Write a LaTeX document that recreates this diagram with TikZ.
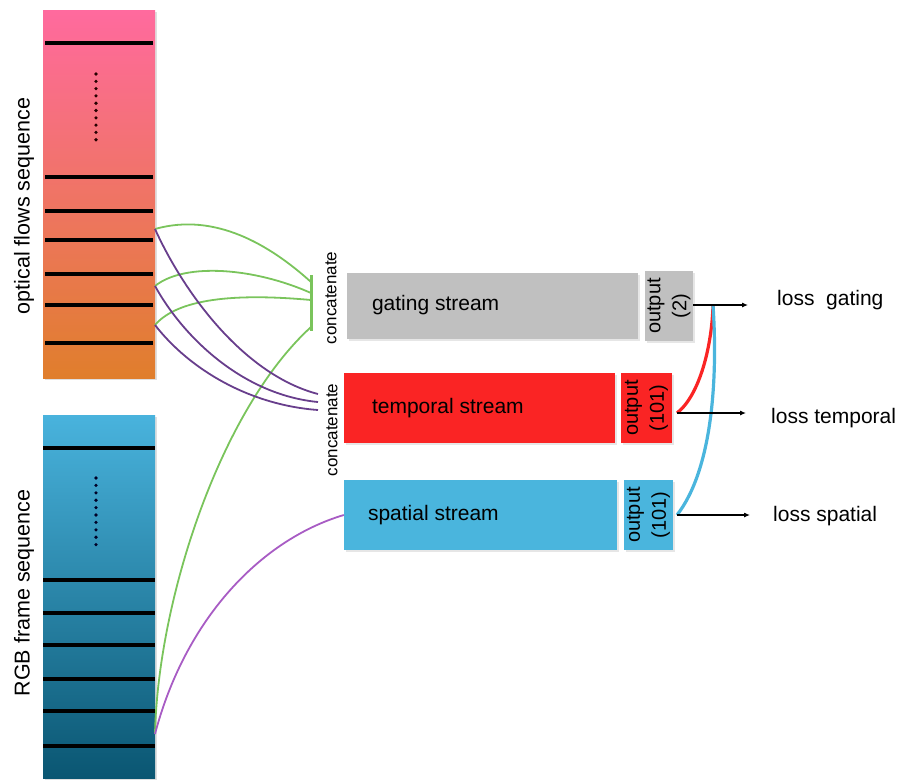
\documentclass[tikz,border=0pt]{standalone}
\usepackage{fontspec}
\setmainfont{Liberation Sans}
\usetikzlibrary{arrows.meta,shadows}
\definecolor{gategray}{RGB}{192,192,192}
\definecolor{tempred}{RGB}{250,36,36}
\definecolor{spblue}{RGB}{74,181,221}
\definecolor{cgreen}{RGB}{122,196,92}
\definecolor{cpurple}{RGB}{104,62,140}
\definecolor{lpurple}{RGB}{168,92,196}
\definecolor{ofTop}{RGB}{255,106,158}
\definecolor{ofBot}{RGB}{224,126,44}
\definecolor{rgbTop}{RGB}{73,179,221}
\definecolor{rgbBot}{RGB}{10,86,114}
\tikzset{
  seqbar/.style={rectangle, draw=none, inner sep=0pt, minimum width=112pt,
    drop shadow={opacity=0.25, shadow xshift=1.5pt, shadow yshift=-2pt}},
  stripe/.style={line width=3.3pt, black},
  streambox/.style={rectangle, draw=none, inner sep=0pt,
    drop shadow={opacity=0.2, shadow xshift=1.5pt, shadow yshift=-2pt}},
  lbl/.style={font=\fontsize{21}{25}\selectfont, inner sep=0pt},
  sidelbl/.style={font=\fontsize{21.5}{25}\selectfont, inner sep=0pt, rotate=90},
  catlbl/.style={font=\fontsize{17}{20}\selectfont, inner sep=0pt, rotate=90},
  outlbl/.style={font=\fontsize{20}{26}\selectfont, inner sep=0pt, rotate=90, align=center},
  gline/.style={cgreen, line width=1.8pt},
  pline/.style={cpurple, line width=1.8pt},
  lossarrow/.style={black, line width=1.1pt, -{Latex[length=6pt,width=5pt]}},
}
\begin{document}
\begin{tikzpicture}[x=1pt,y=-1pt]
\useasboundingbox (0,0) rectangle (902,782);

% sequence bars
\node[seqbar, minimum height=368pt, top color=ofTop, bottom color=ofBot] (of) at (99,194) {};
\node[seqbar, minimum height=363pt, top color=rgbTop, bottom color=rgbBot] (rgb) at (99,596.5) {};

\foreach \yy in {43,177,211,240,274,305,343}
  \draw[stripe] (45,\yy) -- (153,\yy);
\foreach \yy in {448,580,613,645,679,711,746}
  \draw[stripe] (43,\yy) -- (155,\yy);
\foreach \yy in {0,...,9}
  \fill[black!85!red] (96,74+7.3*\yy) circle (1.8pt);
\foreach \yy in {0,...,9}
  \fill[black!85!blue] (96,478+7.4*\yy) circle (1.8pt);

\node[sidelbl] (oflbl) at (24,206) {optical flows sequence};
\node[sidelbl] (rgblbl) at (24,593) {RGB frame sequence};

% concatenate
\coordinate (catT) at (311,275);
\coordinate (catB) at (311,331);
\draw[cgreen, line width=3pt] (catT) -- (catB);
\node[catlbl] (cat1) at (331,298) {concatenate};
\node[catlbl] (cat2) at (332,430) {concatenate};

% stream boxes
\node[streambox, fill=gategray, minimum width=291pt, minimum height=66pt] (gate) at (492.5,305.5) {};
\node[streambox, fill=gategray, minimum width=48pt, minimum height=70pt] (ogate) at (669,306) {};
\node[streambox, fill=tempred, minimum width=271pt, minimum height=70pt] (temp) at (479.5,408) {};
\node[streambox, fill=tempred, minimum width=51pt, minimum height=70pt] (otemp) at (646.5,408) {};
\node[streambox, fill=spblue, minimum width=273pt, minimum height=70pt] (spat) at (480.5,515) {};
\node[streambox, fill=spblue, minimum width=49pt, minimum height=70pt] (ospat) at (648.5,515) {};

\node[lbl, anchor=west] (gtxt) at ([xshift=25pt]gate.west) {gating stream};
\node[lbl, anchor=west] (ttxt) at ([xshift=28pt]temp.west) {temporal stream};
\node[lbl, anchor=west] (stxt) at ([xshift=24pt]spat.west) {spatial stream};

\node[outlbl] (ogt) at (ogate.center) {output\\(2)};
\node[outlbl] (ott) at (otemp.center) {output\\(101)};
\node[outlbl] (ost) at (ospat.center) {output\\(101)};

% connection points
\coordinate (of1) at (155,229);
\coordinate (of2) at (155,286);
\coordinate (of3) at (155,325);
\coordinate (rgbp) at (155,734);
\coordinate (g1) at (311,282);
\coordinate (g2) at (311,293);
\coordinate (g3) at (311,300);
\coordinate (g4) at (311,327);
\coordinate (p1) at (318,394);
\coordinate (p2) at (318,402);
\coordinate (p3) at (318,410);

% green curves
\draw[gline] (of1) .. controls (215,212) and (270,245) .. (g1);
\draw[gline] (of2) .. controls (185,262) and (255,268) .. (g2);
\draw[gline] (of3) .. controls (180,296) and (245,294) .. (g3);
\draw[gline] (rgbp) .. controls (158,600) and (220,410) .. (g4);

% purple curves
\draw[pline] (of1) .. controls (185,295) and (245,375) .. (p1);
\draw[pline] (of2) .. controls (185,340) and (245,395) .. (p2);
\draw[pline] (of3) .. controls (190,370) and (250,405) .. (p3);
\draw[lpurple, line width=1.8pt] (rgbp) .. controls (185,620) and (260,540) .. (spat.west);

% outputs to losses
\coordinate (gs) at (693,305);
\coordinate (ts) at (677,413);
\coordinate (ss) at (677,515);
\coordinate (join) at (713,305);
\draw[tempred, line width=3.2pt] (ts) .. controls (700,395) and (712,345) .. (join);
\draw[spblue, line width=3.2pt] (ss) .. controls (712,470) and (718,380) .. (join);
\node[lbl, anchor=west] (lg) at (777,300) {loss\ \ gating};
\node[lbl, anchor=west] (lt) at (771,418) {loss temporal};
\node[lbl, anchor=west] (ls) at (773,516) {loss spatial};
\draw[lossarrow] (gs) -- (748,305);
\draw[lossarrow] (ts) -- (746,413);
\draw[lossarrow] (ss) -- (750,515);
\end{tikzpicture}
\end{document}
